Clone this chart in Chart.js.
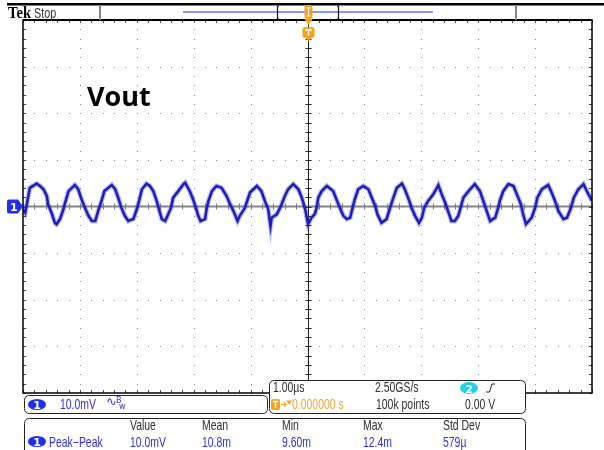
<!DOCTYPE html>
<html>
<head>
<meta charset="utf-8">
<script src="https://cdn.jsdelivr.net/npm/chart.js@4/dist/chart.umd.min.js"></script>
<style>
  html, body { margin: 0; padding: 0; background: #fff; }
  #wrap { width: 604px; height: 450px; position: relative; }
</style>
</head>
<body>
<div id="wrap"><canvas id="scope"></canvas></div>
<script>
// Trace: time in µs (1 µs/div), voltage in mV (10 mV/div)
const timeUs = [
  -4.99, -4.96, -4.88, -4.76, -4.70, -4.64, -4.58, -4.56, -4.50, -4.44,
  -4.41, -4.35, -4.29, -4.26, -4.20, -4.14, -4.09, -4.03, -3.97, -3.91,
  -3.85, -3.79, -3.73, -3.68, -3.63, -3.57, -3.50, -3.44, -3.38, -3.33,
  -3.27, -3.21, -3.15, -3.06, -3.00, -2.96, -2.91, -2.83, -2.77, -2.71,
  -2.65, -2.61, -2.56, -2.50, -2.45, -2.40, -2.36, -2.27, -2.18, -2.15,
  -2.07, -2.01, -1.96, -1.92, -1.88, -1.80, -1.77, -1.74, -1.68, -1.60,
  -1.51, -1.42, -1.36, -1.29, -1.23, -1.19, -1.10, -1.06, -1.01, -0.89,
  -0.81, -0.75, -0.69, -0.65, -0.63, -0.54, -0.47, -0.40, -0.34, -0.25,
  -0.16, -0.10, -0.04, 0.01, 0.07, 0.13, 0.16, 0.19, 0.25, 0.34,
  0.45, 0.51, 0.57, 0.63, 0.69, 0.75, 0.80, 0.83, 0.89, 0.98,
  1.07, 1.13, 1.19, 1.23, 1.30, 1.39, 1.45, 1.51, 1.57, 1.66,
  1.71, 1.78, 1.83, 1.89, 1.96, 2.01, 2.05, 2.12, 2.21, 2.30,
  2.36, 2.42, 2.47, 2.53, 2.59, 2.65, 2.69, 2.74, 2.83, 2.94,
  3.03, 3.09, 3.15, 3.21, 3.30, 3.35, 3.38, 3.44, 3.53, 3.62,
  3.68, 3.75, 3.79, 3.84, 3.94, 4.00, 4.04, 4.12, 4.23, 4.29,
  4.35, 4.41, 4.50, 4.56, 4.63, 4.68, 4.76, 4.85, 4.91, 5.00
];
const voltMv = [
  -0.6, -1.3, 4.0, 4.9, 4.4, 3.7, 2.2, 0.5, -1.3, -3.5,
  -3.8, -2.7, -0.6, 0.8, 3.3, 4.0, 4.6, 3.7, 1.5, -0.3,
  -2.0, -3.1, -3.1, -1.0, 0.8, 3.3, 4.0, 4.6, 3.7, 2.0,
  -0.3, -2.0, -3.1, -2.7, -0.6, 1.2, 3.7, 4.9, 4.4, 3.3,
  1.2, -0.6, -2.7, -3.1, -1.7, -0.3, 1.9, 3.3, 4.8, 5.1,
  3.3, 1.5, -0.3, -2.0, -3.1, -2.7, -0.3, 1.2, 3.3, 4.4,
  4.0, 2.2, 0.5, -1.3, -3.1, -2.0, -0.3, 1.2, 3.0, 4.4,
  3.3, 1.2, -0.6, -4.2, -2.4, -1.7, 0.0, 2.2, 3.7, 4.8,
  3.7, 1.9, -0.6, -3.8, -2.4, -1.6, -0.3, 1.9, 3.3, 4.4,
  3.3, 1.5, -0.3, -2.0, -2.7, -2.4, 0.1, 1.5, 3.7, 4.4,
  3.7, 1.9, 0.1, -1.7, -3.5, -2.7, -0.3, 1.9, 4.0, 4.9,
  3.7, 1.5, -0.3, -2.0, -3.5, -2.4, -0.3, 1.2, 2.6, 4.6,
  2.6, 0.8, -1.0, -3.1, -3.1, -2.0, -0.3, 1.9, 3.3, 4.8,
  3.3, 1.2, -1.0, -3.1, -2.4, -0.3, 1.2, 3.3, 4.8, 4.4,
  2.6, 0.5, -1.7, -3.8, -2.4, -0.3, 1.9, 3.7, 4.6, 3.0,
  1.2, -1.0, -2.7, -2.4, -0.3, 1.9, 3.7, 4.8, 3.3, 1.2
];

// Readout texts
const measHeaders = ['Value', 'Mean', 'Min', 'Max', 'Std Dev'];
const measValues = ['10.0mV', '10.8m', '9.60m', '12.4m', '579µ'];
const measName = 'Peak\u2212Peak';
const chScale = '10.0mV';
const timeScale = '1.00µs';
const sampleRate = '2.50GS/s';
const recordLen = '100k points';
const trigPos = '0.000000 s';
const trigLevel = '0.00 V';
const traceLabel = 'Vout';

const BLUE_TXT = '#3030e4';
const GREY_TXT = '#2e2e2e';
const ORANGE = '#f5a21c';

// scope readout font is tall and narrow: squeeze Liberation Sans
function txt(ctx, s, x, y, color, size) {
  ctx.save();
  ctx.fillStyle = color;
  ctx.font = (size || 14.5) + 'px "Liberation Sans", Arial, sans-serif';
  ctx.translate(x, y);
  ctx.scale(0.72, 1);
  ctx.fillText(s, 0, 0);
  ctx.restore();
}

function rr(ctx, x, y, w, h, r) {
  ctx.beginPath();
  ctx.moveTo(x + r, y);
  ctx.lineTo(x + w - r, y);
  ctx.quadraticCurveTo(x + w, y, x + w, y + r);
  ctx.lineTo(x + w, y + h - r);
  ctx.quadraticCurveTo(x + w, y + h, x + w - r, y + h);
  ctx.lineTo(x + r, y + h);
  ctx.quadraticCurveTo(x, y + h, x, y + h - r);
  ctx.lineTo(x, y + r);
  ctx.quadraticCurveTo(x, y, x + r, y);
  ctx.closePath();
}

function badge(ctx, x, y, w, h, fill, s) {
  ctx.save();
  ctx.fillStyle = fill;
  ctx.beginPath();
  ctx.ellipse(x + w / 2, y + h / 2, w / 2, h / 2, 0, 0, Math.PI * 2);
  ctx.fill();
  ctx.fillStyle = '#fff';
  ctx.font = 'bold 11px "DejaVu Sans", sans-serif';
  ctx.textAlign = 'center';
  ctx.fillText(s, x + w / 2, y + h - 1.5);
  ctx.restore();
}

// graticule, drawn under the trace
const graticule = {
  id: 'graticule',
  beforeDraw(chart) {
    const c = chart.ctx;
    c.save();
    c.fillStyle = '#fff';
    c.fillRect(0, 0, chart.width, chart.height);
    c.restore();
  },
  beforeDatasetsDraw(chart) {
    const c = chart.ctx, a = chart.chartArea, x = chart.scales.x, y = chart.scales.y;
    c.save();
    // dotted division lines
    c.fillStyle = '#8e8e8e';
    for (let i = -4; i <= 4; i++) {
      if (i === 0) continue;
      const px = Math.round(x.getPixelForValue(i));
      for (let k = -20; k <= 20; k++) {
        c.fillRect(px, Math.round(y.getPixelForValue(k * 2)), 1, 1);
      }
    }
    for (let j = -3; j <= 3; j++) {
      if (j === 0) continue;
      const py = Math.round(y.getPixelForValue(j * 10));
      for (let k = -25; k <= 25; k++) {
        c.fillRect(Math.round(x.getPixelForValue(k * 0.2)), py, 1, 1);
      }
    }
    // centre cross
    const cy = y.getPixelForValue(0), cx = Math.round(x.getPixelForValue(0)) + 0.5;
    c.strokeStyle = '#858585';
    c.lineWidth = 2;
    c.beginPath(); c.moveTo(a.left, cy); c.lineTo(a.right, cy); c.stroke();
    c.lineWidth = 1;
    c.strokeStyle = '#7a7a7a';
    c.beginPath();
    for (let k = -25; k <= 25; k++) {
      const px = Math.round(x.getPixelForValue(k * 0.2)) + 0.5;
      c.moveTo(px, cy - 3); c.lineTo(px, cy + 3);
    }
    c.stroke();
    c.strokeStyle = '#222';
    c.beginPath(); c.moveTo(cx, a.top); c.lineTo(cx, a.bottom); c.stroke();
    c.beginPath();
    for (let k = -20; k <= 20; k++) {
      const py = Math.round(y.getPixelForValue(k * 2)) + 0.5;
      c.moveTo(cx - 3, py); c.lineTo(cx + 3, py);
    }
    c.stroke();
    // edge ticks
    c.strokeStyle = '#444';
    c.beginPath();
    for (let k = -25; k <= 25; k++) {
      const px = Math.round(x.getPixelForValue(k * 0.2)) + 0.5;
      c.moveTo(px, a.top); c.lineTo(px, a.top + 3);
      c.moveTo(px, a.bottom); c.lineTo(px, a.bottom - 3);
    }
    for (let k = -20; k <= 20; k++) {
      const py = Math.round(y.getPixelForValue(k * 2)) + 0.5;
      c.moveTo(a.left, py); c.lineTo(a.left + 3, py);
      c.moveTo(a.right, py); c.lineTo(a.right - 3, py);
    }
    c.stroke();
    c.restore();
  }
};

// screen furniture, drawn over everything
const readouts = {
  id: 'readouts',
  afterDraw(chart) {
    const c = chart.ctx, a = chart.chartArea, x = chart.scales.x, y = chart.scales.y;
    c.save();
    // frame
    c.strokeStyle = '#000';
    c.lineWidth = 1.5;
    c.strokeRect(a.left, a.top, a.right - a.left, a.bottom - a.top);
    c.lineWidth = 2;
    c.beginPath(); c.moveTo(a.left, a.top); c.lineTo(a.right, a.top); c.stroke();

    // top bar
    c.fillStyle = '#000';
    c.fillRect(7, 3, 597, 2.5);
    c.save();
    c.font = 'bold 17px "Liberation Serif", serif';
    c.translate(8, 17.5);
    c.scale(0.86, 1);
    c.fillText('Tek', 0, 0);
    c.restore();
    txt(c, 'Stop', 34, 17.5, '#333', 15);
    c.fillStyle = '#888';
    c.fillRect(99, 5, 2, 15);
    c.fillRect(515, 5, 2, 15);
    c.fillStyle = '#9494f0';
    c.fillRect(183, 11, 250, 2);
    c.strokeStyle = '#111';
    c.lineWidth = 1.2;
    c.beginPath();
    c.moveTo(279, 6); c.lineTo(277.5, 6); c.lineTo(277.5, 19); c.lineTo(279, 19);
    c.moveTo(337, 6); c.lineTo(338.5, 6); c.lineTo(338.5, 19); c.lineTo(337, 19);
    c.stroke();

    // trigger position markers
    const tx = Math.round(x.getPixelForValue(0)) + 0.5;
    c.fillStyle = ORANGE;
    rr(c, tx - 4, 5, 8, 14, 3); c.fill();
    c.beginPath(); c.moveTo(tx - 4, 19); c.lineTo(tx + 4, 19); c.lineTo(tx, 25); c.closePath(); c.fill();
    c.strokeStyle = '#fff'; c.lineWidth = 1;
    c.beginPath();
    c.moveTo(tx - 2, 8); c.lineTo(tx + 2, 8);
    c.moveTo(tx, 8); c.lineTo(tx, 16);
    c.moveTo(tx - 2, 16); c.lineTo(tx + 2, 16);
    c.stroke();
    c.fillStyle = ORANGE;
    rr(c, tx - 6, 27, 12, 11, 3); c.fill();
    c.beginPath(); c.moveTo(tx - 4, 37); c.lineTo(tx + 4, 37); c.lineTo(tx, 41); c.closePath(); c.fill();
    c.strokeStyle = '#fff'; c.lineWidth = 1.6;
    c.beginPath(); c.moveTo(tx - 3.5, 30); c.lineTo(tx + 3.5, 30); c.moveTo(tx, 30); c.lineTo(tx, 36); c.stroke();

    // channel 1 ground marker
    const gy = y.getPixelForValue(0);
    c.fillStyle = '#1f2ff0';
    c.beginPath();
    c.moveTo(9, gy - 7); c.lineTo(18, gy - 7); c.lineTo(23, gy); c.lineTo(18, gy + 7); c.lineTo(9, gy + 7);
    c.quadraticCurveTo(7, gy + 7, 7, gy + 5); c.lineTo(7, gy - 5); c.quadraticCurveTo(7, gy - 7, 9, gy - 7);
    c.closePath(); c.fill();
    c.fillStyle = '#fff';
    c.font = 'bold 11px "DejaVu Sans", sans-serif';
    c.fillText('1', 10, gy + 4);

    // label
    c.fillStyle = '#000';
    c.font = 'bold 27px "Open Sans", sans-serif';
    c.fillText(traceLabel, 87, 106);

    // channel box
    c.lineWidth = 1;
    c.strokeStyle = '#222';
    c.fillStyle = '#fff';
    rr(c, 24.5, 395.5, 243, 18, 5); c.fill(); c.stroke();
    badge(c, 28, 399, 18, 11, '#1f2ff0', '1');
    txt(c, chScale, 60, 408.5, BLUE_TXT);
    c.fillStyle = BLUE_TXT;
    c.font = '13px "DejaVu Sans", sans-serif';
    c.fillText('\u223F', 106, 406);
    c.font = '8px "DejaVu Sans", sans-serif';
    c.fillText('B', 116, 403);
    c.fillText('w', 119, 409);

    // timebase box
    c.strokeStyle = '#222';
    c.fillStyle = '#fff';
    rr(c, 269.5, 380.5, 256, 33, 5); c.fill(); c.stroke();
    txt(c, timeScale, 273, 391.5, GREY_TXT);
    txt(c, sampleRate, 375, 391.5, GREY_TXT);
    txt(c, recordLen, 376, 408.5, GREY_TXT);
    txt(c, trigLevel, 465, 408.5, GREY_TXT);
    badge(c, 460, 382, 18, 12, '#1fd3e3', '2');
    c.strokeStyle = '#222'; c.lineWidth = 1;
    c.beginPath(); c.moveTo(486, 392); c.lineTo(489.5, 392); c.lineTo(492, 384); c.lineTo(495, 384); c.stroke();
    c.fillStyle = ORANGE;
    rr(c, 271, 399, 9, 11, 2); c.fill();
    c.strokeStyle = '#fff'; c.lineWidth = 1.4;
    c.beginPath(); c.moveTo(273, 401.5); c.lineTo(278, 401.5); c.moveTo(275.5, 401.5); c.lineTo(275.5, 408); c.stroke();
    c.strokeStyle = ORANGE; c.lineWidth = 1.2;
    c.beginPath(); c.moveTo(281, 404.5); c.lineTo(286, 404.5); c.moveTo(284, 402.5); c.lineTo(286, 404.5); c.lineTo(284, 406.5); c.stroke();
    c.beginPath(); c.moveTo(286.5, 400.5); c.lineTo(292, 400.5); c.lineTo(289.2, 405); c.closePath(); c.fill();
    txt(c, trigPos, 292, 408.5, '#f2a634');

    // measurement box
    c.strokeStyle = '#222'; c.lineWidth = 1;
    c.fillStyle = '#fff';
    rr(c, 24.5, 418.5, 501, 40, 5); c.fill(); c.stroke();
    const colX = [130, 202, 282, 363, 443];
    measHeaders.forEach((h, i) => txt(c, h, colX[i], 430, GREY_TXT));
    badge(c, 28, 436, 18, 11, '#1f2ff0', '1');
    txt(c, measName, 49, 446.5, BLUE_TXT);
    measValues.forEach((v, i) => txt(c, v, colX[i], 446.5, BLUE_TXT));
    c.restore();
  }
};

const points = timeUs.map((t, i) => ({ x: t, y: voltMv[i] }));

new Chart(document.getElementById('scope').getContext('2d'), {
  type: 'line',
  data: {
    datasets: [
      { data: points, borderColor: 'rgba(70,70,210,0.35)', borderWidth: 5, pointRadius: 0, tension: 0 },
      { data: points, borderColor: '#0c0caa', borderWidth: 2.6, pointRadius: 0, tension: 0 }
    ]
  },
  options: {
    animation: false,
    responsive: true,
    maintainAspectRatio: false,
    layout: { padding: { left: 23, top: 20, right: 12, bottom: 57 } },
    scales: {
      x: { type: 'linear', min: -5, max: 5, display: false },
      y: { type: 'linear', min: -40, max: 40, display: false }
    },
    plugins: { legend: { display: false }, tooltip: { enabled: false } }
  },
  plugins: [graticule, readouts]
});
</script>
</body>
</html>
